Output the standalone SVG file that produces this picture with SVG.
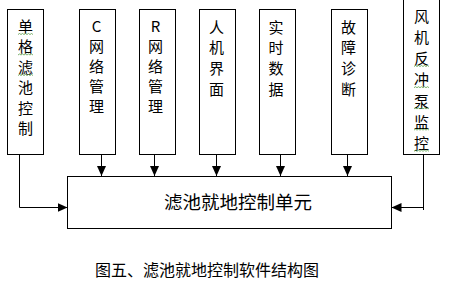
<svg xmlns="http://www.w3.org/2000/svg" width="449" height="281" viewBox="0 0 449 281">
<style>
.box{fill:#fff;stroke:#000;stroke-width:1}
.t{font-family:"Noto Sans CJK SC","Liberation Sans",sans-serif;font-size:15px;fill:#000;text-anchor:middle}
.conn{fill:none;stroke:#000;stroke-width:1}
.sq{fill:none;stroke:#5a9e4a;stroke-width:0.8}
</style>
<defs>
<marker id="ah" markerUnits="userSpaceOnUse" markerWidth="11" markerHeight="10" refX="10" refY="4.5" orient="auto">
<path d="M0,0 L10,4.5 L0,9 z" fill="#000"/>
</marker>
</defs>
<rect width="449" height="281" fill="#fff"/>
<g id="connectors">
<path class="conn" d="M19.5 154.5 V207.5 H67.5" marker-end="url(#ah)"/>
<path class="conn" d="M101.5 154.5 V176" marker-end="url(#ah)"/>
<path class="conn" d="M154.5 154.5 V176" marker-end="url(#ah)"/>
<path class="conn" d="M216.5 154.5 V176" marker-end="url(#ah)"/>
<path class="conn" d="M280.5 154.5 V176" marker-end="url(#ah)"/>
<path class="conn" d="M347.5 154.5 V176" marker-end="url(#ah)"/>
<path class="conn" d="M423.5 207.5 H391.5" marker-end="url(#ah)"/>
<path class="conn" d="M423.5 154.5 V210"/>
</g>
<g id="n1">
<rect class="box" x="7.5" y="9.5" width="36" height="145"/>
<text class="t"><tspan x="25.5" y="31.7">单</tspan><tspan x="25.5" dy="20.5">格</tspan><tspan x="25.5" dy="20.5">滤</tspan><tspan x="25.5" dy="20.5">池</tspan><tspan x="25.5" dy="20.5">控</tspan><tspan x="25.5" dy="20.5">制</tspan></text>
<path class="sq" d="M18 34.5 l1.5 -1 l1.5 1 l1.5 -1 l1.5 1 l1.5 -1 l1.5 1 l1.5 -1 l1.5 1 l1.5 -1 l1.5 1 M18 55 l1.5 -1 l1.5 1 l1.5 -1 l1.5 1 l1.5 -1 l1.5 1 l1.5 -1 l1.5 1 l1.5 -1 l1.5 1 M18 75.5 l1.5 -1 l1.5 1 l1.5 -1 l1.5 1 l1.5 -1 l1.5 1 l1.5 -1 l1.5 1 l1.5 -1 l1.5 1"/>
</g>
<g id="n2">
<rect class="box" x="79.5" y="9.5" width="36" height="145"/>
<text class="t"><tspan x="96.5" y="32.4">C</tspan><tspan x="96.5" dy="20">网</tspan><tspan x="96.5" dy="20">络</tspan><tspan x="96.5" dy="20">管</tspan><tspan x="96.5" dy="20">理</tspan></text>
</g>
<g id="n3">
<rect class="box" x="139.5" y="9.5" width="36" height="145"/>
<text class="t"><tspan x="155.5" y="32.4">R</tspan><tspan x="155.5" dy="20">网</tspan><tspan x="155.5" dy="20">络</tspan><tspan x="155.5" dy="20">管</tspan><tspan x="155.5" dy="20">理</tspan></text>
</g>
<g id="n4">
<rect class="box" x="199.5" y="9.5" width="36" height="145"/>
<text class="t"><tspan x="216.5" y="32.7">人</tspan><tspan x="216.5" dy="20.7">机</tspan><tspan x="216.5" dy="20.7">界</tspan><tspan x="216.5" dy="20.7">面</tspan></text>
</g>
<g id="n5">
<rect class="box" x="259.5" y="9.5" width="36" height="145"/>
<text class="t"><tspan x="276" y="32.7">实</tspan><tspan x="276" dy="20.7">时</tspan><tspan x="276" dy="20.7">数</tspan><tspan x="276" dy="20.7">据</tspan></text>
</g>
<g id="n6">
<rect class="box" x="331.5" y="9.5" width="36" height="145"/>
<text class="t"><tspan x="348.5" y="32.7">故</tspan><tspan x="348.5" dy="20.7">障</tspan><tspan x="348.5" dy="20.7">诊</tspan><tspan x="348.5" dy="20.7">断</tspan></text>
</g>
<g id="n7">
<rect class="box" x="403.5" y="-2" width="36" height="156.5"/>
<text class="t"><tspan x="421.5" y="21.7">风</tspan><tspan x="421.5" dy="21.2">机</tspan><tspan x="421.5" dy="21.2">反</tspan><tspan x="421.5" dy="21.2">冲</tspan><tspan x="421.5" dy="21.2">泵</tspan><tspan x="421.5" dy="21.2">监</tspan><tspan x="421.5" dy="21.2">控</tspan></text>
<path class="sq" d="M414 66.5 l1.5 -1 l1.5 1 l1.5 -1 l1.5 1 l1.5 -1 l1.5 1 l1.5 -1 l1.5 1 l1.5 -1 l1.5 1 M414 87.7 l1.5 -1 l1.5 1 l1.5 -1 l1.5 1 l1.5 -1 l1.5 1 l1.5 -1 l1.5 1 l1.5 -1 l1.5 1 M414 108.9 l1.5 -1 l1.5 1 l1.5 -1 l1.5 1 l1.5 -1 l1.5 1 l1.5 -1 l1.5 1 l1.5 -1 l1.5 1 M414 130.1 l1.5 -1 l1.5 1 l1.5 -1 l1.5 1 l1.5 -1 l1.5 1 l1.5 -1 l1.5 1 l1.5 -1 l1.5 1 M414 151.3 l1.5 -1 l1.5 1 l1.5 -1 l1.5 1 l1.5 -1 l1.5 1 l1.5 -1 l1.5 1 l1.5 -1 l1.5 1"/>
</g>
<g id="main">
<rect class="box" x="67.5" y="176.5" width="324" height="52"/>
<text x="164" y="208.5" font-family="Noto Sans CJK SC, Liberation Sans, sans-serif" font-size="18.5" fill="#000">滤池就地控制单元</text>
</g>
<g id="caption">
<text x="95" y="276" font-family="Noto Sans CJK SC, Liberation Sans, sans-serif" font-size="16" fill="#000">图五、滤池就地控制软件结构图</text>
</g>
</svg>
